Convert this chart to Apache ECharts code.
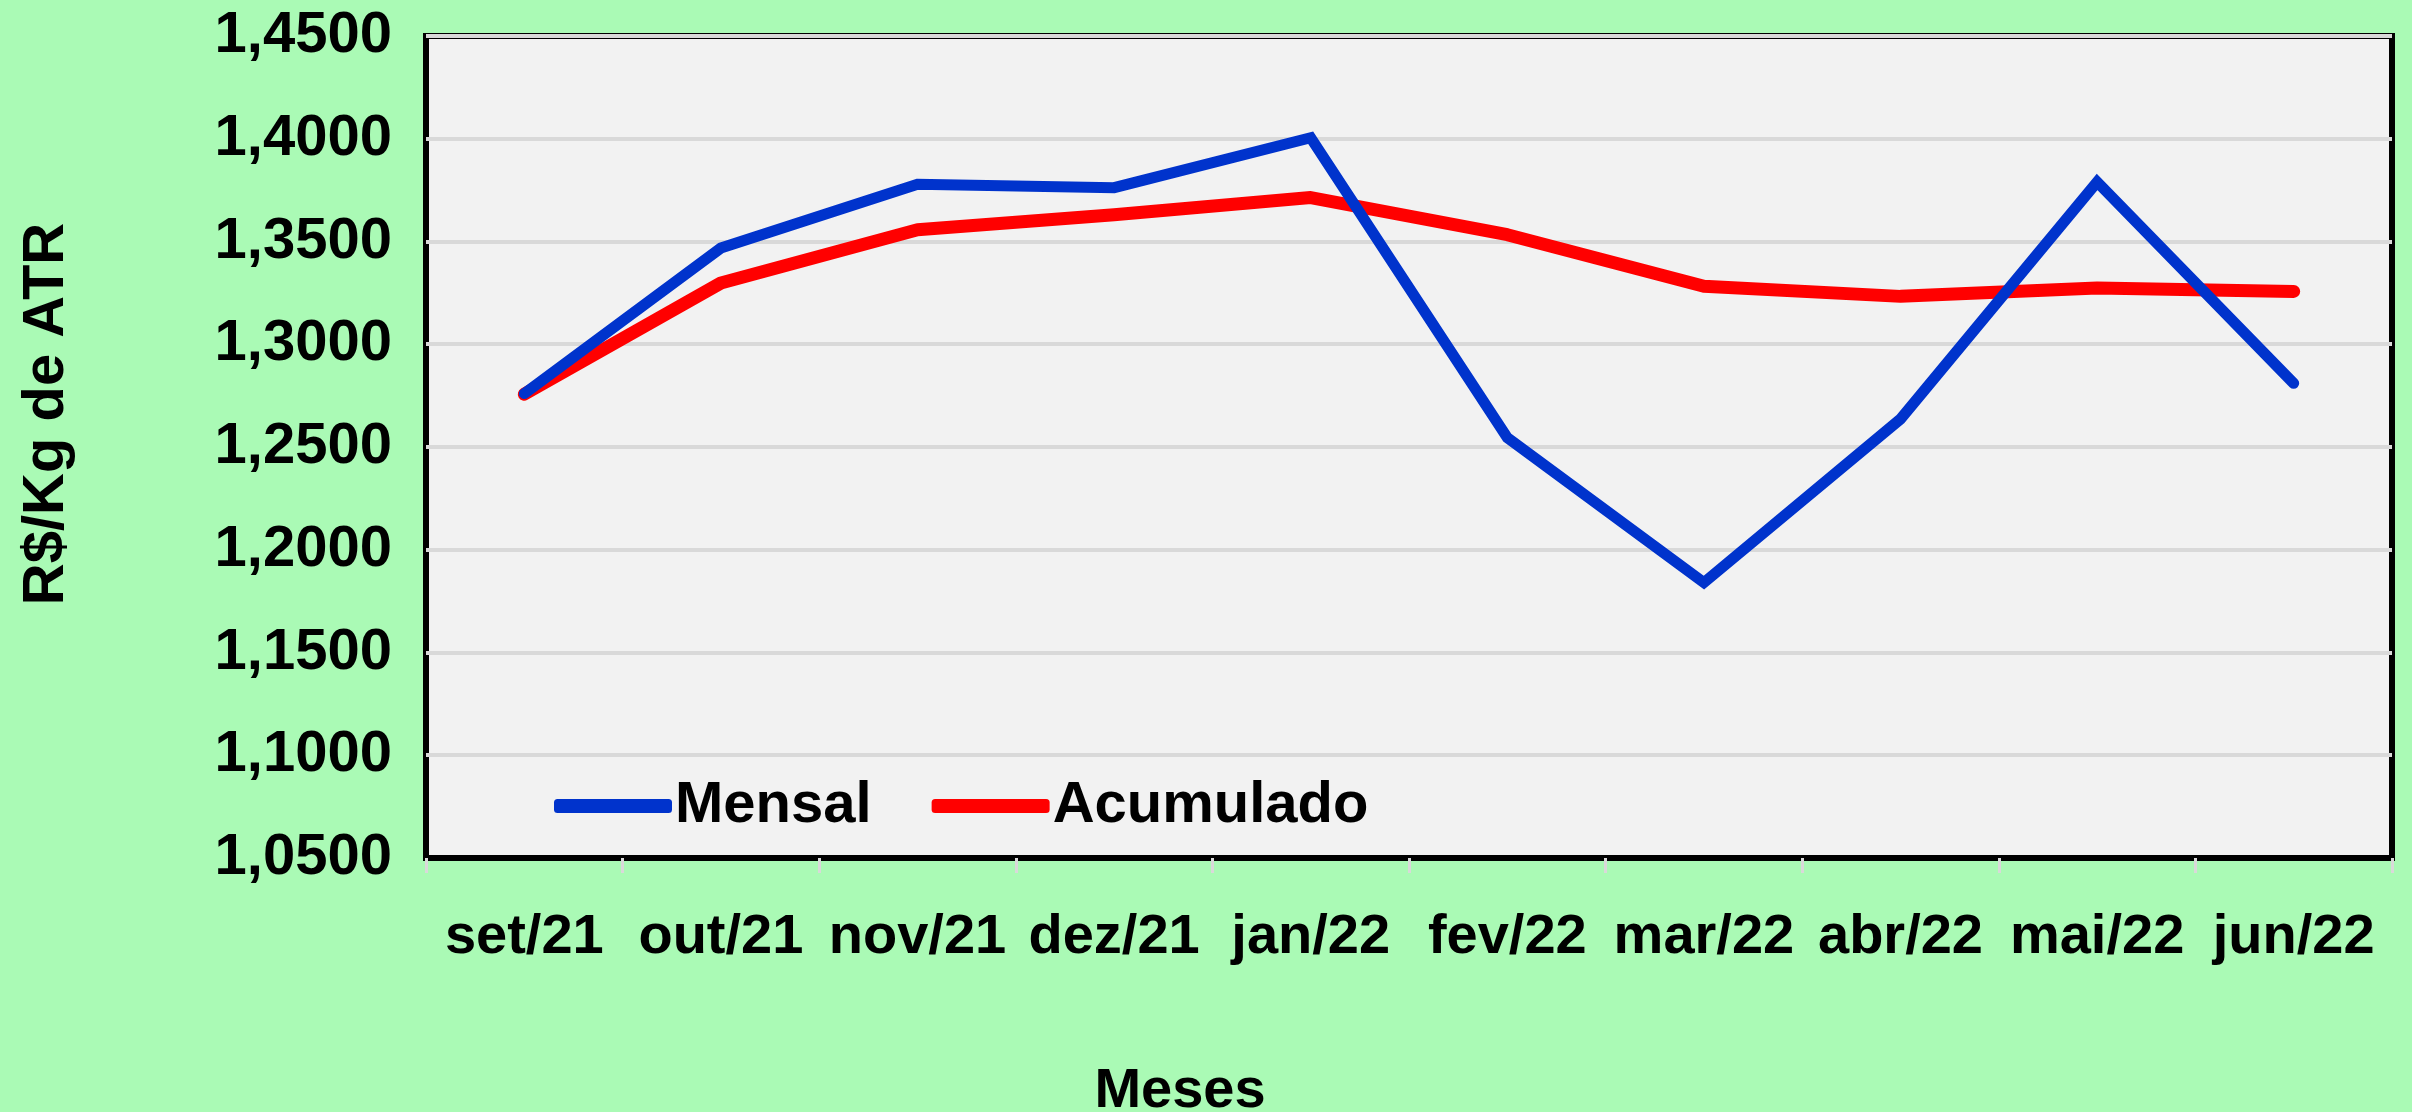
<!DOCTYPE html>
<html lang="pt">
<head>
    <meta charset="UTF-8">
    <title>R$/Kg de ATR - Mensal e Acumulado</title>
</head>

<script src="https://cdn.jsdelivr.net/npm/echarts@6/dist/echarts.min.js"></script>

<body style="margin:0;background:#aafab5">
<div id="main" style="height: 1112px;width: 2412px"></div>
<script type="text/javascript">
    // dados
    var meses = ['set/21', 'out/21', 'nov/21', 'dez/21', 'jan/22', 'fev/22', 'mar/22', 'abr/22', 'mai/22', 'jun/22']
    var mensal = [1.2760, 1.3468, 1.3778, 1.3762, 1.4005, 1.2545, 1.1840, 1.2636, 1.3790, 1.2810]
    var acumulado = [1.2757, 1.3298, 1.3557, 1.3630, 1.3714, 1.3533, 1.3282, 1.3233, 1.3274, 1.3257]
    var yTicks = ['1,0500', '1,1000', '1,1500', '1,2000', '1,2500', '1,3000', '1,3500', '1,4000', '1,4500']

    var fonte = '"Liberation Sans", Arial, sans-serif'

    var myChart = echarts.init(document.getElementById('main'))
    var option = {
        backgroundColor: '#aafab5',
        animation: false,
        grid: {
            left: 426,
            right: 20,
            top: 36,
            bottom: 254,
            outerBoundsMode: 'none',
            containLabel: false,
            show: true,
            backgroundColor: '#f2f2f2',
            borderColor: '#000',
            borderWidth: 6
        },
        legend: {
            data: ['Mensal', 'Acumulado'],
            left: 549,
            top: 772,
            icon: 'roundRect',
            itemWidth: 118,
            itemHeight: 14,
            itemGap: 60,
            textStyle: {
                fontFamily: fonte,
                fontWeight: 'bold',
                fontSize: 58,
                color: '#000',
                padding: [0, 0, 0, -2]
            }
        },
        xAxis: {
            type: 'category',
            data: meses,
            name: 'Meses',
            nameLocation: 'middle',
            nameGap: 206,
            nameTextStyle: {
                fontFamily: fonte,
                fontWeight: 'bold',
                fontSize: 56,
                color: '#000',
                padding: [0, 458, 0, 0]
            },
            axisLine: {
                show: true,
                lineStyle: { color: '#000', width: 4 }
            },
            axisTick: {
                show: true,
                length: 15,
                lineStyle: { color: '#d9d9d9', width: 3 }
            },
            axisLabel: {
                interval: 0,
                hideOverlap: false,
                margin: 52,
                fontFamily: fonte,
                fontWeight: 'bold',
                fontSize: 56,
                color: '#000'
            }
        },
        yAxis: {
            type: 'value',
            min: 1.05,
            max: 1.45,
            interval: 0.05,
            name: 'R$/Kg de ATR',
            nameLocation: 'middle',
            nameGap: 350,
            nameTextStyle: {
                fontFamily: fonte,
                fontWeight: 'bold',
                fontSize: 58,
                color: '#000',
                padding: [0, 0, 0, 66]
            },
            axisLine: { show: false },
            axisTick: { show: false },
            splitLine: {
                show: true,
                lineStyle: { color: '#d9d9d9', width: 4 }
            },
            axisLabel: {
                margin: 34,
                fontFamily: fonte,
                fontWeight: 'bold',
                fontSize: 58,
                color: '#000',
                formatter: function (v) {
                    var i = Math.round((v - 1.05) / 0.05)
                    return yTicks[i]
                }
            }
        },
        series: [{
            name: 'Mensal',
            type: 'line',
            data: mensal,
            showSymbol: false,
            symbol: 'none',
            color: '#0033cc',
            lineStyle: { color: '#0033cc', width: 11, cap: 'round', join: 'miter' },
            z: 3
        }, {
            name: 'Acumulado',
            type: 'line',
            data: acumulado,
            showSymbol: false,
            symbol: 'none',
            color: '#ff0000',
            lineStyle: { color: '#ff0000', width: 13, cap: 'round', join: 'round' },
            z: 2
        }]
    }
    myChart.setOption(option)
</script>

</body>
</html>
